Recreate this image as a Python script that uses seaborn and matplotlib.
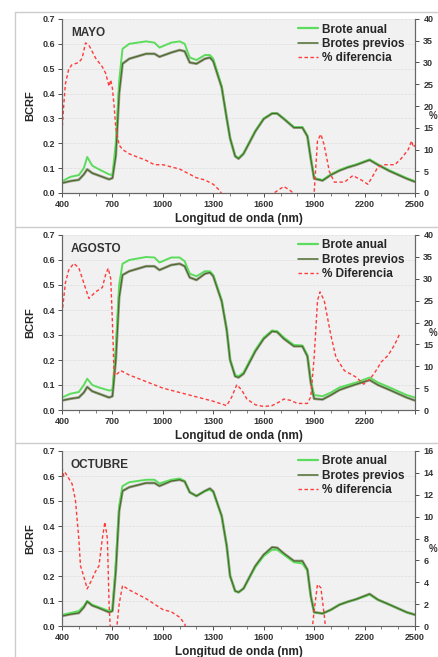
import numpy as np
import pandas as pd
import matplotlib
matplotlib.use('Agg')
import matplotlib.pyplot as plt
from matplotlib.ticker import MultipleLocator
from matplotlib.lines import Line2D
import seaborn as sns

# reflectance sampling (nm), shared by the three months
wl = [400, 450, 500, 530, 550, 580, 620, 680, 700, 720, 740, 760, 800, 900, 950, 980,
      1050, 1100, 1130, 1160, 1200, 1250, 1280, 1300, 1350, 1380, 1400, 1430, 1450, 1480,
      1550, 1600, 1650, 1680, 1720, 1780, 1830, 1860, 1880, 1900, 1950, 2000, 2050, 2100,
      2150, 2230, 2280, 2350, 2400, 2450, 2500]

# MAYO
mayo_anual = [.047, .065, .072, .10, .145, .11, .095, .075, .072, .20, .45, .58, .60, .61, .605, .585,
              .605, .61, .60, .545, .535, .555, .555, .54, .43, .30, .22, .15, .14, .16,
              .25, .30, .32, .32, .30, .265, .265, .23, .14, .06, .052, .075, .092, .105,
              .115, .135, .115, .09, .075, .06, .047]
mayo_previos = [.04, .048, .053, .075, .095, .08, .07, .055, .06, .15, .40, .52, .54, .56, .56, .548,
                .565, .575, .57, .525, .52, .54, .545, .53, .425, .30, .22, .148, .138, .158,
                .248, .298, .32, .32, .298, .263, .263, .228, .138, .058, .05, .073, .09, .103,
                .113, .133, .113, .088, .073, .058, .045]
mayo_pct_wl = [400, 410, 420, 440, 460, 500, 520, 540, 560, 600, 640, 660, 680, 690, 700, 710,
               720, 740, 760, 800, 900, 950, 1000, 1100, 1150, 1200, 1250, 1300, 1340, 1360,
               1500, 1650, 1680, 1720, 1760, 1790, 1880, 1900, 1920, 1940, 1960, 1990, 2020,
               2080, 2130, 2180, 2220, 2250, 2280, 2320, 2380, 2420, 2460, 2480, 2490, 2500]
mayo_pct = [14, 20, 25, 28.5, 29.5, 30, 31, 34.5, 34, 31, 29, 27.5, 24.5, 26, 24, 20,
            15, 11, 10, 9, 7.5, 6.5, 6.5, 5.5, 4.5, 3.5, 3, 2, 0.5, -1,
            -2, -0.3, 0.5, 1.5, 0.5, -0.5, -1, 0, 12, 13.5, 11, 5, 2.5,
            2.5, 4, 3, 2, 4, 6, 6.5, 6.5, 8, 10, 12, 10.5, 11]

# AGOSTO
agosto_anual = [.05, .065, .072, .10, .125, .10, .09, .078, .08, .25, .50, .585, .60, .612, .61, .59,
                .61, .61, .595, .545, .535, .555, .555, .54, .44, .32, .20, .14, .135, .15,
                .24, .29, .318, .315, .29, .26, .258, .22, .12, .06, .055, .07, .09, .10,
                .11, .13, .11, .09, .075, .06, .05]
agosto_previos = [.038, .045, .05, .07, .092, .075, .065, .05, .055, .20, .45, .54, .555, .575, .575, .56,
                  .58, .585, .575, .53, .52, .545, .55, .535, .435, .32, .20, .135, .13, .145,
                  .235, .285, .315, .312, .285, .255, .255, .215, .11, .045, .042, .06, .08, .092,
                  .103, .12, .10, .08, .065, .05, .038]
agosto_pct_wl = [400, 420, 440, 470, 500, 530, 560, 600, 640, 660, 675, 690, 700, 710, 720, 750,
                 800, 900, 1000, 1100, 1200, 1300, 1380, 1410, 1440, 1470, 1500, 1550, 1600,
                 1650, 1700, 1720, 1760, 1800, 1860, 1880, 1900, 1920, 1935, 1960, 2000, 2030,
                 2080, 2150, 2195, 2230, 2260, 2300, 2340, 2380, 2410]
agosto_pct = [22, 29, 32, 33.5, 32.5, 29, 25.5, 27, 28, 31, 32.4, 30, 20, 8, 8, 9,
              8, 6.5, 5, 4, 3, 2, 1, 3, 5.8, 4.5, 2.5, 1.2, 0.8,
              1, 2, 2.5, 2.2, 1.5, 1.5, 3, 12, 25, 27, 25, 17, 12,
              9, 7.5, 5.9, 7, 8.5, 11, 12.5, 15, 17.5]

# OCTUBRE
octubre_anual = [.045, .052, .06, .08, .10, .085, .075, .06, .065, .25, .48, .56, .575, .585, .585, .57,
                 .585, .59, .58, .535, .52, .54, .545, .535, .44, .32, .20, .14, .135, .15,
                 .235, .28, .305, .305, .285, .255, .25, .22, .12, .055, .05, .065, .085, .097,
                 .107, .125, .105, .085, .07, .055, .045]
octubre_previos = [.04, .047, .052, .075, .098, .082, .072, .055, .06, .22, .46, .54, .555, .572, .572, .56,
                   .58, .585, .578, .535, .52, .54, .55, .538, .44, .32, .20, .14, .135, .15,
                   .24, .285, .315, .313, .29, .26, .26, .225, .12, .055, .05, .065, .085, .097,
                   .107, .128, .105, .085, .07, .055, .045]
octubre_pct_wl = [400, 410, 420, 440, 460, 480, 500, 510, 530, 550, 570, 600, 620, 640, 655, 670,
                  680, 690, 720, 740, 760, 800, 900, 950, 1000, 1050, 1100, 1130, 1150, 1880,
                  1890, 1905, 1920, 1940, 1960, 1970]
octubre_pct = [14.5, 13.7, 14, 13.5, 13, 11.5, 8, 5.5, 4.5, 3.4, 4, 5, 5.5, 8, 9.5, 8,
               2, -1, -1, 2, 3.7, 3.3, 2.5, 2, 1.5, 1.3, 0.8, 0.2, -1, -1,
               0, 2, 3.8, 3.5, 1, -0.5]

panels = [
    ('MAYO', mayo_anual, mayo_previos, mayo_pct_wl, mayo_pct, '% diferencia', 40, 5, True),
    ('AGOSTO', agosto_anual, agosto_previos, agosto_pct_wl, agosto_pct, '% Diferencia', 40, 5, False),
    ('OCTUBRE', octubre_anual, octubre_previos, octubre_pct_wl, octubre_pct, '% diferencia', 16, 2, True),
]

sns.set_style('ticks', {'axes.facecolor': '#f1f1f1', 'axes.edgecolor': '#666666'})
plt.rcParams['font.family'] = ['Liberation Sans', 'DejaVu Sans']
plt.rcParams['font.weight'] = 'bold'

GREEN = '#5cdc5c'
OLIVE = '#4b6b2b'
RED = '#ff3b3b'

W, H = 438, 657
fig = plt.figure(figsize=(W / 100, H / 100), dpi=100)

# panel frames (gray lines of the composite)
for yy in [12, 227, 443]:
    fig.add_artist(Line2D([15 / W, 1], [1 - yy / H] * 2, color='#cccccc', lw=1))
fig.add_artist(Line2D([15 / W] * 2, [0, 1 - 12 / H], color='#cccccc', lw=1))

tops = [19, 235, 451]
bottoms = [193, 410, 626]
for (title, anual, previos, pwl, pct, plabel, pmax, pstep, last_lab), top, bot in zip(panels, tops, bottoms):
    ax = fig.add_axes([62 / W, 1 - bot / H, (415 - 62) / W, (bot - top) / H])
    df = pd.DataFrame({'wl': wl, 'anual': anual, 'previos': previos})
    dp = pd.DataFrame({'wl': pwl, 'pct': pct})

    ax.yaxis.grid(True, color='#dddddd', lw=0.5, ls='--')
    sns.lineplot(data=df, x='wl', y='previos', ax=ax, color='#a3a396', lw=2.0, zorder=2)
    sns.lineplot(data=df, x='wl', y='anual', ax=ax, color=GREEN, lw=1.4, zorder=3)
    sns.lineplot(data=df, x='wl', y='previos', ax=ax, color=OLIVE, lw=0.9, zorder=4)
    ax.set_xlim(400, 2500)
    ax.set_ylim(0, 0.7)
    ax.set_yticks(np.arange(0, 0.71, 0.1))
    ax.set_yticklabels([f'{v:.1f}' for v in np.arange(0, 0.71, 0.1)])
    xt = list(range(400, 2501, 300))
    ax.set_xticks(xt)
    ax.set_xticklabels([str(v) if (v < 2500 or last_lab) else '' for v in xt])
    ax.xaxis.set_minor_locator(MultipleLocator(100))
    ax.tick_params(axis='both', labelsize=6.5, colors='#333333', length=3, width=0.6, pad=2)
    ax.tick_params(axis='x', which='minor', length=2, width=0.6, colors='#666666')
    ax.set_xlabel('Longitud de onda (nm)', fontsize=8.5, fontweight='bold', labelpad=3)
    ax.set_ylabel('BCRF', fontsize=8, fontweight='bold', labelpad=5)
    ax.text(0.025, 0.955, title, transform=ax.transAxes, fontsize=8.5, fontweight='bold',
            va='top', ha='left', color='#333333')
    sns.despine(ax=ax, top=True, right=False)

    ax2 = ax.twinx()
    sns.lineplot(data=dp, x='wl', y='pct', ax=ax2, color=RED, lw=1.0)
    ax2.lines[0].set_dashes((2.5, 1.8))
    ax2.set_ylim(0, pmax)
    ax2.set_yticks(np.arange(0, pmax + 0.1, pstep))
    ax2.tick_params(axis='y', labelsize=6.5, colors='#333333', length=3, width=0.6, pad=3)
    ax2.set_ylabel('')
    ax2.spines['top'].set_visible(False)
    ax2.spines['right'].set_color('#666666')
    fig.text(429 / W, 1 - (top + (bot - top) * 0.56) / H, '%', fontsize=7, fontweight='bold',
             ha='left', va='center', color='#333333')

    handles = [Line2D([], [], color=GREEN, lw=1.6),
               Line2D([], [], color=OLIVE, lw=1.1),
               Line2D([], [], color=RED, lw=1.0, dashes=(2.5, 1.8))]
    ax2.legend(handles, ['Brote anual', 'Brotes previos', plabel], loc='upper right',
               bbox_to_anchor=(1.0, 1.035), frameon=False, prop={'size': 8.5, 'weight': 'bold'},
               handlelength=1.7, handletextpad=0.3, labelspacing=0.2)

fig.savefig('out.png', dpi=100)
